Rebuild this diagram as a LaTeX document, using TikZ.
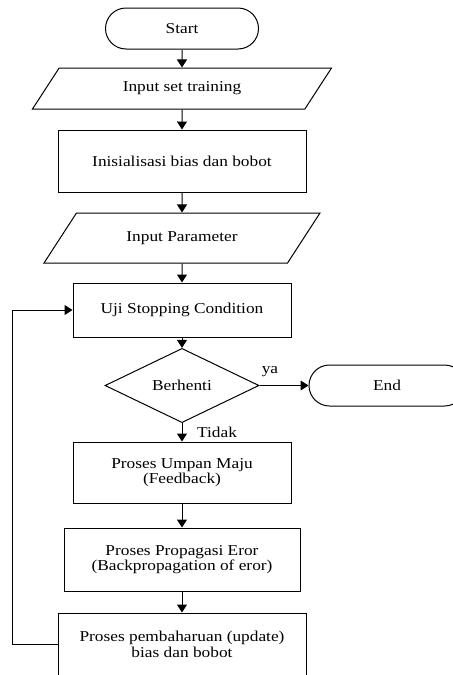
\documentclass[tikz,border=0pt]{standalone}
\usepackage{fontspec}
\setmainfont[FakeStretch=1.15]{Liberation Serif}
\usetikzlibrary{arrows.meta,shapes.geometric,shapes.misc}

\tikzset{every picture/.style={line width=0.75pt}}
\tikzset{
    term/.style={draw, rounded rectangle, minimum height=30.75pt, inner sep=0.75pt},
    proc/.style={draw, rectangle, inner sep=0.75pt, align=center},
    io/.style={draw, trapezium, trapezium left angle=57, trapezium right angle=123, trapezium stretches body, text height=7.5pt, text depth=2.5pt},
    cond/.style={draw, diamond, inner sep=0.75pt},
    flow/.style={-{Triangle[width=7.5pt,length=6pt]}},
}

\begin{document}
\begin{tikzpicture}[x=0.75pt,y=0.75pt,yscale=-1,xscale=1,font=\fontsize{11.3}{11.8}\selectfont]
        \useasboundingbox (0,0) rectangle (453,675);
        \clip (0,0) rectangle (453,675);

        % Terminals
        \node [term, minimum width=116.25pt] (start) at (182,28.5) {Start};
        \node [term, minimum width=118.5pt] (finish) at (387,385.5) {End};
        % Inputs
        \node [io, inner ysep=10.375pt, minimum width=224.25pt] (inset) at (182,88.5) {Input set training};
        \node [io, inner ysep=13.75pt, minimum width=207pt] (param) at (182,238) {Input Parameter};
        % Processes
        \node [proc, minimum width=186pt, minimum height=46.5pt] (init) at (182,161) {Inisialisasi bias dan bobot};
        \node [proc, minimum width=163.5pt, minimum height=40.5pt] (uji) at (182,310) {Uji Stopping Condition};
        \node [proc, minimum width=163.5pt, minimum height=45.75pt] (maju) at (182,472.5) {Proses Umpan Maju\\(Feedback)};
        \node [proc, minimum width=177pt, minimum height=47.25pt] (propag) at (182,559.5) {Proses Propagasi Eror\\(Backpropagation of eror)};
        \node [proc, minimum width=186pt, minimum height=47.25pt] (update) at (182,644.5) {Proses pembaharuan (update)\\bias dan bobot};
        % Decision
        \node [cond, minimum width=115.5pt, minimum height=47.25pt] (stop) at (182,385.5) {Berhenti};

        % Flow lines
        \draw [flow] (start) -- (inset);
        \draw [flow] (inset) -- (init);
        \draw [flow] (init) -- (param);
        \draw [flow] (param) -- (uji);
        \draw [flow] (uji) -- (stop);
        \draw [flow] (stop) -- (maju);
        \draw [flow] (maju) -- (propag);
        \draw [flow] (propag) -- (update);
        \draw [flow] (stop.east) -- (finish.west);
        \draw [flow] (update.west) -- ++(-45,0) |- (uji.west);

        % Text Node
        \node (ya) at (270,372) {ya};
        % Text Node
        \node [fill=white, inner xsep=6.75pt, inner ysep=3pt] (tidak) at (217,432) {Tidak};

\end{tikzpicture}
\end{document}
